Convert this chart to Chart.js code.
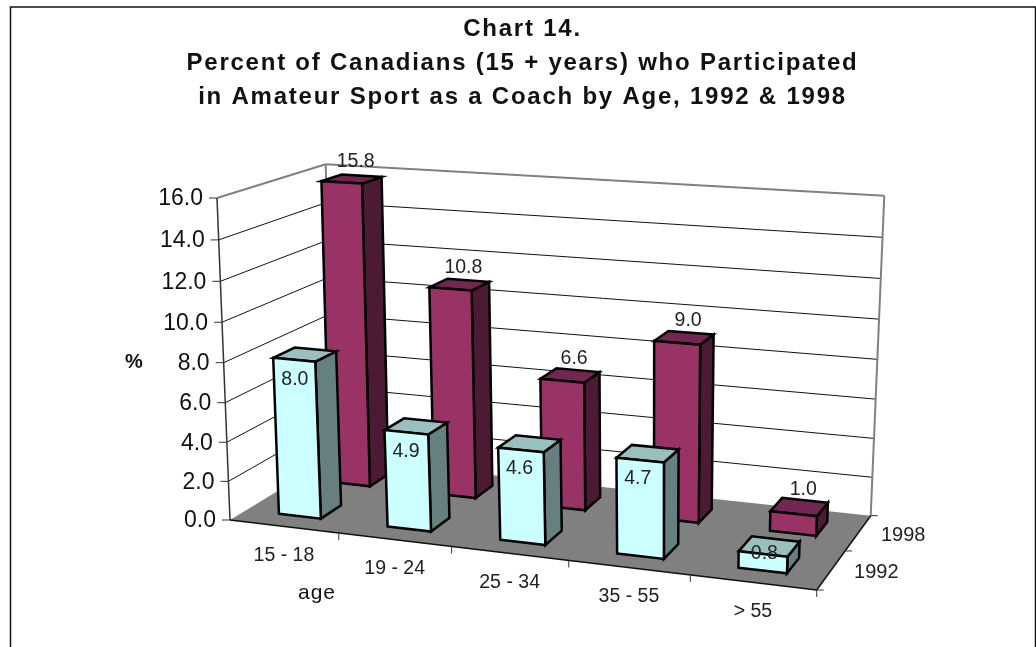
<!DOCTYPE html>
<html>
<head>
<meta charset="utf-8">
<title>Chart 14</title>
<script src="https://cdn.jsdelivr.net/npm/chart.js@4"></script>
<style>
    html, body { margin: 0; padding: 0; background: #fff; overflow: hidden; }
    #wrap { width: 1036px; height: 647px; }
</style>
</head>
<body>
<div id="wrap"><canvas id="chart" width="1036" height="647"></canvas></div>
<script>
const titleLines = ['Chart 14.', 'Percent of Canadians (15 + years) who Participated', 'in Amateur Sport as a Coach by Age, 1992 & 1998'];
const ageGroups = ['15 - 18', '19 - 24', '25 - 34', '35 - 55', '> 55'];
const years = ['1992', '1998'];
const values1992 = [8.0, 4.9, 4.6, 4.7, 0.8];
const values1998 = [15.8, 10.8, 6.6, 9.0, 1.0];
const yAxisMax = 16;
const yAxisStep = 2;
const yAxisTitle = '%';
const xAxisTitle = 'age';

// corners of the 3D box as they land on the page (x along ages, d into the depth)
const floorQuad = [[230, 520], [816.7, 590], [870.7, 515.7], [332, 458]];
const topQuad = [[217, 198], [827.5, 238], [884.3, 195.7], [325.7, 164.3]];
const perspective = 0.047;
const barDepth = 0.4;

const colors = {
    '1992': { face: '#CCFFFF', top: '#99BFBF', side: '#668080' },
    '1998': { face: '#993366', top: '#732650', side: '#4D1A33' }
};

// unit square to quad, see Heckbert
function quadMap(q) {
    const [[x0, y0], [x1, y1], [x2, y2], [x3, y3]] = q;
    const dx1 = x1 - x2, dx2 = x3 - x2, sx = x0 - x1 + x2 - x3;
    const dy1 = y1 - y2, dy2 = y3 - y2, sy = y0 - y1 + y2 - y3;
    const den = dx1 * dy2 - dx2 * dy1;
    const g = (sx * dy2 - dx2 * sy) / den;
    const h = (dx1 * sy - sx * dy1) / den;
    const a = x1 - x0 + g * x1, b = x3 - x0 + h * x3;
    const d = y1 - y0 + g * y1, e = y3 - y0 + h * y3;
    return (u, v) => {
        const w = g * u + h * v + 1;
        return [(a * u + b * v + x0) / w, (d * u + e * v + y0) / w];
    };
}
const floorMap = quadMap(floorQuad);
const topMap = quadMap(topQuad);

function project(u, d, v) {
    const w = v / (1 + perspective * (1 - v));
    const p = floorMap(u, d), q = topMap(u, d);
    return [p[0] + (q[0] - p[0]) * w, p[1] + (q[1] - p[1]) * w];
}

function fillPoly(ctx, pts, fill, stroke, lw) {
    ctx.beginPath();
    pts.forEach((p, i) => i ? ctx.lineTo(p[0], p[1]) : ctx.moveTo(p[0], p[1]));
    ctx.closePath();
    if (fill) { ctx.fillStyle = fill; ctx.fill(); }
    if (stroke) { ctx.strokeStyle = stroke; ctx.lineWidth = lw; ctx.stroke(); }
}

function line(ctx, a, b, color, lw) {
    ctx.beginPath();
    ctx.moveTo(a[0], a[1]);
    ctx.lineTo(b[0], b[1]);
    ctx.strokeStyle = color;
    ctx.lineWidth = lw;
    ctx.stroke();
}

function label(ctx, text, x, y, font, color, align, spacing) {
    ctx.font = font;
    ctx.fillStyle = color || '#222';
    ctx.textAlign = align || 'center';
    ctx.textBaseline = 'middle';
    ctx.letterSpacing = spacing || '0px';
    ctx.fillText(text, x, y);
    ctx.letterSpacing = '0px';
}

const box3d = {
    id: 'box3d',
    beforeDraw(chart) {
        // the native title picks this up
        chart.ctx.letterSpacing = '1.77px';
    },
    afterDatasetsDraw(chart) {
        const ctx = chart.ctx;
        const area = chart.chartArea;
        const yScale = chart.scales.y;
        const sans = '"Liberation Sans", Arial, sans-serif';

        ctx.save();
        ctx.letterSpacing = '0px';
        ctx.lineJoin = 'miter';

        // frame, open at the bottom
        ctx.beginPath();
        ctx.moveTo(10.5, 647);
        ctx.lineTo(10.5, 7);
        ctx.lineTo(1035.5, 7);
        ctx.lineTo(1035.5, 647);
        ctx.strokeStyle = '#111';
        ctx.lineWidth = 1.5;
        ctx.stroke();

        // floor
        fillPoly(ctx, floorQuad, '#808080');

        // gridlines on both walls, ticks and tick labels on the front corner
        yScale.ticks.forEach(t => {
            const v = (area.bottom - yScale.getPixelForValue(t.value)) / area.height;
            const a = project(0, 0, v), b = project(0, 1, v), c = project(1, 1, v);
            if (v > 0 && v < 1) {
                line(ctx, a, b, '#111', 1);
                line(ctx, b, c, '#111', 1);
            }
            line(ctx, [a[0] - 8, a[1]], a, '#333', 1);
            label(ctx, t.label, a[0] - 14, a[1] + 1, '23px ' + sans, '#111', 'right');
        });

        // wall outline
        line(ctx, project(0, 0, 1), project(0, 1, 1), '#808080', 2);
        line(ctx, project(0, 1, 1), project(1, 1, 1), '#808080', 2);
        line(ctx, project(1, 1, 1), project(1, 1, 0), '#808080', 2);
        line(ctx, project(0, 1, 1), project(0, 1, 0), '#808080', 2);
        line(ctx, project(0, 0, 0), project(0, 0, 1), '#333', 1.5);

        // front and right edges of the floor
        line(ctx, project(0, 0, 0), project(1, 0, 0), '#111', 1.5);
        line(ctx, project(1, 0, 0), project(1, 1, 0), '#111', 1.5);

        // ticks along the floor
        ageGroups.forEach((name, i) => {
            const u0 = i / ageGroups.length, u1 = (i + 1) / ageGroups.length;
            const tick = project(u1, 0, 0);
            line(ctx, tick, [tick[0], tick[1] + 7], '#333', 1);
            const mid = project((u0 + u1) / 2, 0, 0);
            label(ctx, name, mid[0], mid[1] + 29, '19.5px ' + sans, '#222');
        });
        years.forEach((name, i) => {
            const d1 = (i + 1) / years.length;
            const tick = project(1, d1, 0);
            line(ctx, tick, [tick[0] + 7, tick[1]], '#333', 1);
            const mid = project(1, (i + 0.5) / years.length, 0);
            label(ctx, name, mid[0] + 45, mid[1] + 3, '20px ' + sans, '#222');
        });
        const corner = project(1, 0, 0);
        line(ctx, corner, [corner[0] + 7, corner[1]], '#333', 1);

        // bars, back row first so the front row sits over it
        const texts = [];
        for (let ds = years.length - 1; ds >= 0; ds--) {
            const c = colors[years[ds]];
            const d0 = (ds + (1 - barDepth) / 2) / years.length;
            const d1 = d0 + barDepth / years.length;
            chart.getDatasetMeta(ds).data.forEach((bar, i) => {
                const u0 = (bar.x - bar.width / 2 - area.left) / area.width;
                const u1 = (bar.x + bar.width / 2 - area.left) / area.width;
                const v = (area.bottom - bar.y) / area.height;
                const fb0 = project(u0, d0, 0), fb1 = project(u1, d0, 0);
                const ft0 = project(u0, d0, v), ft1 = project(u1, d0, v);
                const bb1 = project(u1, d1, 0), bt0 = project(u0, d1, v), bt1 = project(u1, d1, v);
                fillPoly(ctx, [fb1, bb1, bt1, ft1], c.side, '#000', 2.5);
                fillPoly(ctx, [ft0, ft1, bt1, bt0], c.top, '#000', 2.5);
                fillPoly(ctx, [fb0, fb1, ft1, ft0], c.face, '#000', 2.5);

                const cx = (ft0[0] + ft1[0] + bt0[0] + bt1[0]) / 4;
                const cy = (ft0[1] + ft1[1] + bt0[1] + bt1[1]) / 4;
                const text = chart.data.datasets[ds].data[i].toFixed(1);
                if (ds === 1) texts.push([text, cx + 4, cy - 17]);
                else if (fb0[1] - ft0[1] < 30) texts.push([text, cx - 5, cy + 7]);
                else texts.push([text, cx - 10, cy + 25]);
            });
        }
        texts.forEach(t => label(ctx, t[0], t[1], t[2], '19.5px ' + sans, '#222'));

        // axis titles
        label(ctx, yAxisTitle, 134, 362, 'bold 20px ' + sans, '#111');
        label(ctx, xAxisTitle, 317, 593, '21px ' + sans, '#111', 'center', '1px');
        ctx.restore();
    }
};

new Chart(document.getElementById('chart'), {
    type: 'bar',
    data: {
        labels: ageGroups,
        datasets: [
            { label: years[0], data: values1992, backgroundColor: 'transparent' },
            { label: years[1], data: values1998, backgroundColor: 'transparent' }
        ]
    },
    options: {
        responsive: false,
        animation: false,
        events: [],
        layout: { padding: { left: 9, right: 0, top: 0, bottom: 0 } },
        datasets: { bar: { categoryPercentage: 0.39, barPercentage: 1, grouped: false } },
        scales: {
            x: { display: false },
            y: {
                display: false,
                min: 0,
                max: yAxisMax,
                ticks: { stepSize: yAxisStep, callback: v => v.toFixed(1) }
            }
        },
        plugins: {
            legend: { display: false },
            tooltip: { enabled: false },
            title: {
                display: true,
                text: titleLines,
                color: '#111',
                font: { family: '"Liberation Sans", Arial, sans-serif', size: 24, weight: 'bold', lineHeight: 1.417 },
                padding: { top: 12, bottom: 10 }
            }
        }
    },
    plugins: [box3d]
});
</script>
</body>
</html>
